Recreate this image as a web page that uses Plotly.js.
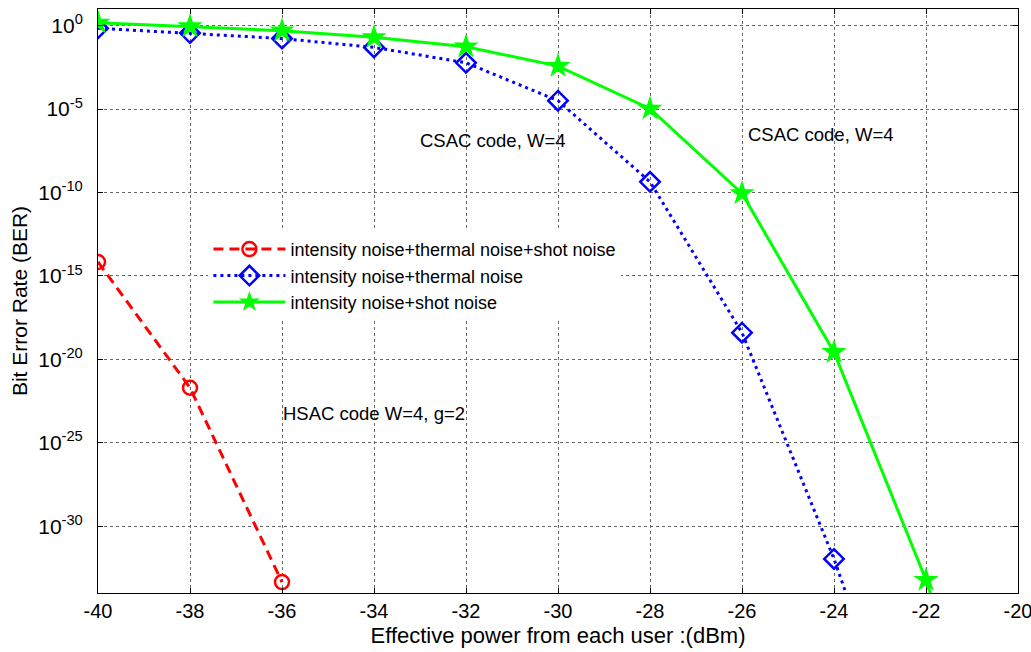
<!DOCTYPE html>
<html>
<head>
<meta charset="utf-8">
<script src="https://cdn.plot.ly/plotly-3.0.1.min.js"></script>
<style>html,body{margin:0;padding:0;background:#fff;}#chart{width:1031px;height:652px;}</style>
</head>
<body>
<div id="chart"></div>
<script>
// Effective power from each user (dBm)
const powerRed = [-40, -38, -36];
const berRed = [6.9e-15, 2.0e-22, 4.5e-34];

const powerBlue = [-40, -38, -36, -34, -32, -30, -28, -26, -24, -22];
const berBlue = [0.7, 0.36, 0.17, 0.05, 6.0e-3, 3.2e-5, 4.4e-10, 4.0e-19, 1.1e-32, 2e-48];

const powerGreen = [-40, -38, -36, -34, -32, -30, -28, -26, -24, -22, -20];
const berGreen = [1.5, 0.9, 0.5, 0.2, 0.055, 3.8e-3, 1.05e-5, 8.9e-11, 2.7e-20, 6.0e-34, 1e-50];

const seriesNames = [
  'intensity noise+thermal noise+shot noise',
  'intensity noise+thermal noise',
  'intensity noise+shot noise'
];

const xTickVals = [-40, -38, -36, -34, -32, -30, -28, -26, -24, -22, -20];
const xTickText = ['-40', '-38', '-36', '-34', '-32', '-30', '-28', '-26', '-24', '-22', '-20'];
const yTickVals = [1, 1e-5, 1e-10, 1e-15, 1e-20, 1e-25, 1e-30];
const yTickText = ['10<sup>0</sup>', '10<sup>-5</sup>', '10<sup>-10</sup>', '10<sup>-15</sup>', '10<sup>-20</sup>', '10<sup>-25</sup>', '10<sup>-30</sup>'];

const annText = ['CSAC code, W=4', 'CSAC code, W=4', 'HSAC code W=4, g=2'];

const FONT = 'Arial, "Liberation Sans", sans-serif';

const traces = [
  {
    x: powerRed, y: berRed, name: seriesNames[0], mode: 'lines+markers',
    line: {color: '#ff0000', width: 3, dash: '10px,6px'},
    marker: {symbol: 'circle-open', size: 14, color: '#ff0000', line: {width: 2.5, color: '#ff0000'}}
  },
  {
    x: powerBlue, y: berBlue, name: seriesNames[1], mode: 'lines+markers',
    line: {color: '#0000ff', width: 3, dash: '3px,4px'},
    marker: {symbol: 'diamond-open', size: 15, color: '#0000ff', line: {width: 2.5, color: '#0000ff'}}
  },
  {
    x: powerGreen, y: berGreen, name: seriesNames[2], mode: 'lines+markers',
    line: {color: '#00ff00', width: 3},
    marker: {symbol: 'star', size: 19, color: '#00ff00', line: {width: 0}}
  }
];

const layout = {
  width: 1031, height: 652,
  margin: {l: 98, r: 13, t: 9, b: 59, pad: 0},
  paper_bgcolor: '#fff', plot_bgcolor: '#fff',
  font: {family: FONT, size: 18, color: '#000'},
  showlegend: true,
  legend: {
    x: 0.12, y: 0.62, xanchor: 'left', yanchor: 'top',
    bgcolor: '#fff', borderwidth: 0,
    font: {family: FONT, size: 18, color: '#000'},
    itemwidth: 72, tracegroupgap: 0
  },
  xaxis: {
    range: [-40, -20],
    tickvals: xTickVals, ticktext: xTickText,
    ticks: 'inside', ticklen: 5, tickcolor: '#000',
    showline: true, linecolor: '#000', linewidth: 1, mirror: 'ticks',
    showgrid: true, gridcolor: '#666', griddash: 'dot', gridwidth: 1,
    zeroline: false,
    ticklabeloverflow: 'allow',
    tickfont: {family: FONT, size: 20},
    title: {text: 'Effective power from each user :(dBm)', font: {family: FONT, size: 22}, standoff: 6}
  },
  yaxis: {
    type: 'log', range: [-34, 1],
    tickvals: yTickVals, ticktext: yTickText,
    ticks: 'inside', ticklen: 5, tickcolor: '#000',
    showline: true, linecolor: '#000', linewidth: 1, mirror: 'ticks',
    showgrid: true, gridcolor: '#666', griddash: 'dot', gridwidth: 1,
    zeroline: false,
    ticklabelstandoff: 10,
    tickfont: {family: FONT, size: 21},
    title: {text: 'Bit Error Rate (BER)', font: {family: FONT, size: 21}, standoff: 4}
  },
  annotations: [
    {x: -31.42, y: -6.87, xref: 'x', yref: 'y', text: annText[0], showarrow: false, font: {family: FONT, size: 18.5, color: '#000'}},
    {x: -24.28, y: -6.51, xref: 'x', yref: 'y', text: annText[1], showarrow: false, font: {family: FONT, size: 18.5, color: '#000'}},
    {x: -34.0, y: -23.25, xref: 'x', yref: 'y', text: annText[2], showarrow: false, font: {family: FONT, size: 18.5, color: '#000'}}
  ]
};

Plotly.newPlot('chart', traces, layout, {displayModeBar: false, staticPlot: true});
</script>
</body>
</html>
